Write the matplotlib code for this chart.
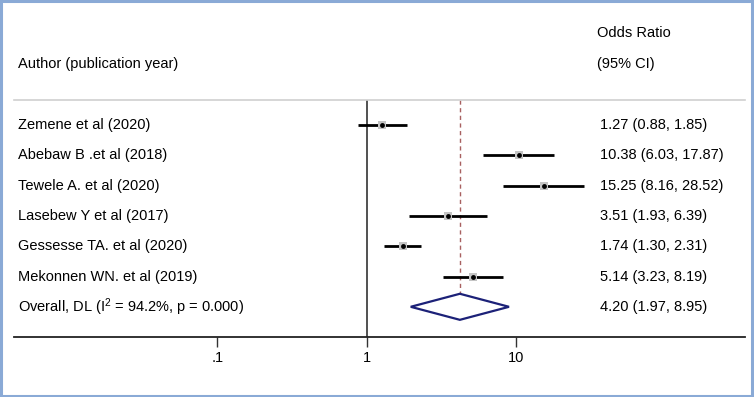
import matplotlib
matplotlib.use("Agg")
import matplotlib.pyplot as plt
from matplotlib.patches import Polygon, Rectangle
import numpy as np

plt.rcParams['font.family'] = ['Liberation Sans', 'DejaVu Sans']
plt.rcParams['mathtext.fontset'] = 'custom'
plt.rcParams['mathtext.rm'] = 'Liberation Sans'
plt.rcParams['mathtext.it'] = 'Liberation Sans'

# ---- data ----
authors = ["Zemene et al (2020)", "Abebaw B .et al (2018)", "Tewele A. et al (2020)",
           "Lasebew Y et al (2017)", "Gessesse TA. et al (2020)", "Mekonnen WN. et al (2019)"]
odds = [1.27, 10.38, 15.25, 3.51, 1.74, 5.14]
ci_low = [0.88, 6.03, 8.16, 1.93, 1.30, 3.23]
ci_high = [1.85, 17.87, 28.52, 6.39, 2.31, 8.19]
overall_label = "Overall, DL ($\\mathregular{I^{2}}$ = 94.2%, p = 0.000)"
overall_or = 4.20
overall_low = 1.97
overall_high = 8.95
tick_values = [0.1, 1, 10]
tick_labels = [".1", "1", "10"]

W, H = 754, 397
fig = plt.figure(figsize=(W / 100, H / 100), dpi=100)

# axes in pixel geometry
ax_left, ax_right = 14, 745
ax_top, ax_bottom = 100, 337
ax = fig.add_axes([ax_left / W, 1 - ax_bottom / H, (ax_right - ax_left) / W, (ax_bottom - ax_top) / H])

x1_px = 366.7
dec = 149.5
ax.set_xscale('log')
ax.set_xlim(10 ** ((ax_left - x1_px) / dec), 10 ** ((ax_right - x1_px) / dec))

row0, rstep = 125.0, 30.3
ax.set_ylim((ax_bottom - row0) / rstep, (ax_top - row0) / rstep)

for s in ['left', 'right']:
    ax.spines[s].set_visible(False)
ax.spines['top'].set_color('#d0d0d0')
ax.spines['top'].set_linewidth(1.2)
ax.spines['bottom'].set_color('#222222')
ax.spines['bottom'].set_linewidth(1.3)

ax.set_xticks(tick_values)
ax.set_xticklabels(tick_labels, fontsize=10.5)
ax.xaxis.set_minor_locator(matplotlib.ticker.NullLocator())
ax.tick_params(axis='x', length=7, width=1.0, color='#333333', pad=3)
ax.set_yticks([])

# reference line at 1
ax.axvline(1, color='#333333', lw=1.2, zorder=1)
# dashed line at overall estimate
n = len(odds)
ax.plot([overall_or, overall_or], [(ax_top - row0) / rstep, n + 0.44], ls=(0, (3, 2.5)),
        color='#a86060', lw=1.0, zorder=1)

ys = np.arange(n)
for i in range(n):
    ax.plot([ci_low[i], ci_high[i]], [ys[i], ys[i]], color='black', lw=2.0, zorder=2,
            solid_capstyle='butt')
ax.plot(odds, ys, 's', color='#c4c4c4', markersize=5.8, markeredgewidth=0, zorder=3)
ax.plot(odds, ys, 'o', color='black', markersize=3.5, markeredgewidth=0, zorder=4)

# overall diamond
yo = n
hh = 0.43
diamond = Polygon([[overall_low, yo], [overall_or, yo - hh], [overall_high, yo], [overall_or, yo + hh]],
                  closed=True, facecolor='white', edgecolor='#1c2178', lw=1.6, zorder=3)
ax.add_patch(diamond)

# text columns
fs = 10.5
def fx(px):
    return px / W

for i in range(n):
    fig.text(fx(18), 1 - (row0 + rstep * i) / H, authors[i], fontsize=fs, va='center', ha='left')
    fig.text(fx(600), 1 - (row0 + rstep * i) / H,
             f"{odds[i]:.2f} ({ci_low[i]:.2f}, {ci_high[i]:.2f})", fontsize=fs, va='center', ha='left')
fig.text(fx(18), 1 - (row0 + rstep * n) / H, overall_label, fontsize=fs, va='center', ha='left')
fig.text(fx(600), 1 - (row0 + rstep * n) / H,
         f"{overall_or:.2f} ({overall_low:.2f}, {overall_high:.2f})", fontsize=fs, va='center', ha='left')

fig.text(fx(18), 1 - 64 / H, "Author (publication year)", fontsize=fs, va='center', ha='left')
fig.text(fx(597), 1 - 33 / H, "Odds Ratio", fontsize=fs, va='center', ha='left')
fig.text(fx(597), 1 - 64 / H, "(95% CI)", fontsize=fs, va='center', ha='left')

# blue frame
fig.patches.append(Rectangle((0.5 / W, 1.5 / H), (W - 2.5) / W, (H - 2.5) / H, transform=fig.transFigure,
                             fill=False, edgecolor='#8aaad6', lw=2.2))

fig.savefig("out.png", dpi=100)
